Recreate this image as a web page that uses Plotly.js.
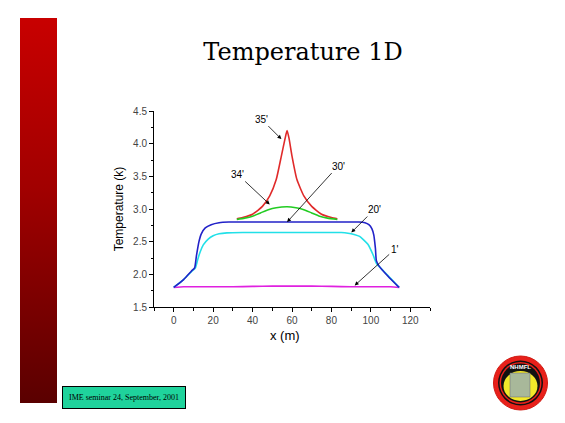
<!DOCTYPE html>
<html>
<head>
<meta charset="utf-8">
<script src="https://cdn.plot.ly/plotly-3.0.1.min.js"></script>
<style>
html,body{margin:0;padding:0;background:#ffffff;}
#wrap{position:relative;width:565px;height:423px;overflow:hidden;background:#ffffff;}
#bar{position:absolute;left:20px;top:18px;width:37px;height:385px;background:linear-gradient(to bottom,#c80000 0%,#a00000 45%,#5a0000 100%);}
#chart{position:absolute;left:0;top:0;width:565px;height:423px;}
</style>
</head>
<body>
<div id="wrap"><div id="bar"></div><div id="chart"></div></div>
<script>
// Data
const x1  = [0, 5, 10, 20, 30, 40, 50, 60, 70, 80, 90, 100, 110, 114.5];
const t1  = [1.80, 1.81, 1.81, 1.81, 1.81, 1.815, 1.82, 1.82, 1.82, 1.815, 1.81, 1.81, 1.81, 1.80];

const x20 = [0, 5, 9, 11, 12.3, 13.5, 15, 17.5, 20, 23, 27, 35, 50, 70, 85, 88.4, 91.5, 94.3, 98.5, 101.1, 102.8, 104.5, 108.7, 114.3];
const t20 = [1.80, 1.92, 2.04, 2.10, 2.24, 2.35, 2.45, 2.54, 2.59, 2.62, 2.635, 2.64, 2.64, 2.64, 2.64, 2.63, 2.61, 2.58, 2.46, 2.30, 2.17, 2.11, 1.98, 1.80];

const x30 = [0, 5, 9, 10.6, 11.5, 12.8, 14, 16, 19, 23, 28, 50, 70, 90, 94, 97, 99, 100.5, 101.5, 102.3, 102.8, 104.1, 108.7, 114.3];
const t30 = [1.80, 1.92, 2.05, 2.10, 2.28, 2.50, 2.62, 2.71, 2.76, 2.79, 2.80, 2.80, 2.80, 2.80, 2.80, 2.79, 2.76, 2.70, 2.60, 2.40, 2.21, 2.13, 1.97, 1.80];

const x34 = [32, 36, 40, 44, 48, 52, 57.5, 62, 66, 70, 74, 78, 83];
const t34 = [2.84, 2.86, 2.89, 2.94, 2.99, 3.02, 3.035, 3.02, 2.99, 2.94, 2.89, 2.86, 2.84];

const x35 = [32, 35, 40, 45, 48.7, 52, 54.6, 56.5, 57.5, 58.5, 60, 62.5, 66, 70, 75, 80, 83];
const t35 = [2.85, 2.87, 2.92, 3.04, 3.20, 3.45, 3.81, 4.08, 4.20, 4.08, 3.81, 3.45, 3.20, 3.04, 2.92, 2.87, 2.85];

const curveLabels = ["35'", "34'", "30'", "20'", "1'"];
const labelX = [54.6, 48.7, 57.5, 90.1, 91.8];
const labelY = [4.07, 3.07, 2.80, 2.64, 1.83];

const titleText = "Temperature 1D";
const xTitle = "x (m)";
const yTitle = "Temperature (k)";
const footerText = "IME seminar 24, September, 2001";

function tr(x, y, color) {
  return {x: x, y: y, type: 'scatter', mode: 'lines',
          line: {color: color, width: 1.6, shape: 'spline', smoothing: 0.5},
          hoverinfo: 'skip', showlegend: false};
}

const data = [
  tr(x1, t1, '#e020e0'),
  tr(x20, t20, '#22e0e8'),
  tr(x30, t30, '#2222c8'),
  tr(x35, t35, '#e02a2a'),
  tr(x34, t34, '#22cc22')
];

function px(v) { return (v - 154) / 276; }
function py(v) { return (307 - v) / 196; }

const offs = [[-20, -20], [-32, -30], [51, -56], [23, -23], [40, -36]];
const annotations = curveLabels.map((t, i) => ({
  x: labelX[i], y: labelY[i], xref: 'x', yref: 'y', text: t,
  showarrow: true, ax: offs[i][0], ay: offs[i][1],
  arrowhead: 2, arrowsize: 1, arrowwidth: 0.8, arrowcolor: '#000',
  font: {family: 'Arial, Liberation Sans, sans-serif', size: 10, color: '#000'}
}));

annotations.push({
  xref: 'paper', yref: 'paper', x: px(285), y: py(335), xanchor: 'center', yanchor: 'middle',
  text: xTitle, showarrow: false,
  font: {family: 'Arial, Liberation Sans, sans-serif', size: 13, color: '#000'}
});

annotations.push({
  xref: 'paper', yref: 'paper', x: px(123.5), y: py(397),
  xanchor: 'center', yanchor: 'middle', text: footerText, showarrow: false,
  bgcolor: '#1fd39c', bordercolor: '#000', borderwidth: 1, borderpad: 6,
  font: {family: 'Liberation Serif, serif', size: 8, color: '#000'}
});
annotations.push({
  xref: 'paper', yref: 'paper', x: px(520.5), y: py(367), xanchor: 'center', yanchor: 'middle',
  text: '<b>NHMFL</b>', showarrow: false,
  font: {family: 'Arial, sans-serif', size: 6, color: '#fff'}
});

const cx = 520.5, cy = 383;
function circ(r, fill, line, lw) {
  return {type: 'circle', xref: 'paper', yref: 'paper',
          x0: px(cx - r), x1: px(cx + r), y0: py(cy + r), y1: py(cy - r),
          fillcolor: fill, line: {color: line, width: lw}, layer: 'above'};
}
const shapes = [
  circ(27, '#e8201a', '#d01810', 1),
  circ(22.5, '#111', '#111', 0),
  circ(21, '#e8201a', '#e8201a', 0),
  circ(19.5, '#111', '#111', 0),
  {type: 'circle', xref: 'paper', yref: 'paper',
   x0: px(cx - 17), x1: px(cx + 17), y0: py(cy + 18), y1: py(cy - 12),
   fillcolor: '#f2e82a', line: {color: '#f2e82a', width: 0}, layer: 'above'},
  {type: 'rect', xref: 'paper', yref: 'paper', x0: px(510), x1: px(530), y0: py(397), y1: py(373),
   fillcolor: '#a8b89a', line: {color: '#667', width: 0.5}, layer: 'above'}
];

const layout = {
  width: 565, height: 423,
  margin: {l: 154, r: 135, t: 111, b: 116, pad: 0},
  paper_bgcolor: 'rgba(0,0,0,0)', plot_bgcolor: 'rgba(0,0,0,0)',
  title: {text: titleText, x: 303 / 565, xanchor: 'center', y: 1 - 52 / 423, yanchor: 'middle',
          font: {family: 'DejaVu Serif, Liberation Serif, serif', size: 24, color: '#000'}},
  xaxis: {
    range: [-10, 130], tickmode: 'array', tickvals: [0, 20, 40, 60, 80, 100, 120],
    ticks: 'outside', ticklen: 4, tickwidth: 1, tickcolor: '#000',
    minor: {tickvals: [-10, 10, 30, 50, 70, 90, 110, 130], ticks: 'outside', ticklen: 2.5, tickcolor: '#000'},
    showline: true, linecolor: '#000', linewidth: 1, showgrid: false, zeroline: false,
    tickfont: {family: 'Arial, Liberation Sans, sans-serif', size: 10, color: '#444'}
  },
  yaxis: {
    range: [1.5, 4.5], tickmode: 'array', tickvals: [1.5, 2.0, 2.5, 3.0, 3.5, 4.0, 4.5],
    ticktext: ['1.5', '2.0', '2.5', '3.0', '3.5', '4.0', '4.5'],
    ticks: 'outside', ticklen: 4, tickwidth: 1, tickcolor: '#000',
    minor: {tickvals: [1.75, 2.25, 2.75, 3.25, 3.75, 4.25], ticks: 'outside', ticklen: 2.5, tickcolor: '#000'},
    showline: true, linecolor: '#000', linewidth: 1, showgrid: false, zeroline: false,
    tickfont: {family: 'Arial, Liberation Sans, sans-serif', size: 10, color: '#444'},
    title: {text: yTitle, standoff: 6, font: {family: 'Arial, Liberation Sans, sans-serif', size: 12, color: '#000'}}
  },
  annotations: annotations,
  shapes: shapes
};

Plotly.newPlot('chart', data, layout, {displayModeBar: false, staticPlot: true});
</script>
</body>
</html>
